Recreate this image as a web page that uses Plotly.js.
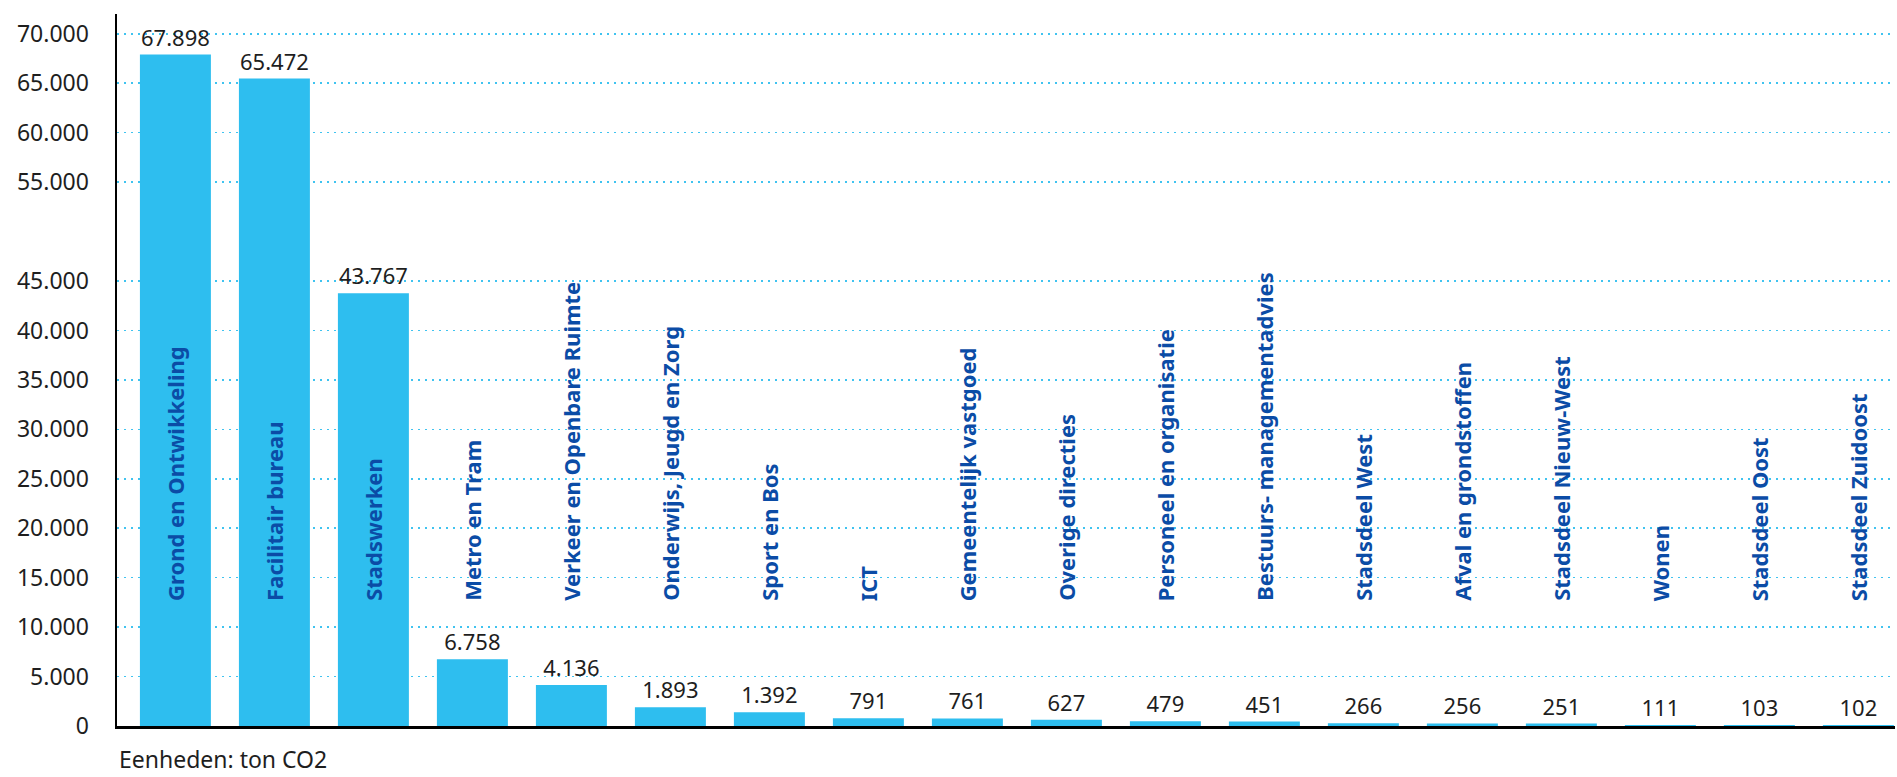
<!DOCTYPE html>
<html>
<head>
<meta charset="utf-8">
<script src="https://cdn.plot.ly/plotly-3.0.1.min.js"></script>
<style>
  html, body { margin: 0; padding: 0; background: #ffffff; }
  #chart { width: 1897px; height: 777px; }
</style>
</head>
<body>
<div id="chart"></div>
<script>
// ---- data ----
const categories = [
  "Grond en Ontwikkeling",
  "Facilitair bureau",
  "Stadswerken",
  "Metro en Tram",
  "Verkeer en Openbare Ruimte",
  "Onderwijs, Jeugd en Zorg",
  "Sport en Bos",
  "ICT",
  "Gemeentelijk vastgoed",
  "Overige directies",
  "Personeel en organisatie",
  "Bestuurs- managementadvies",
  "Stadsdeel West",
  "Afval en grondstoffen",
  "Stadsdeel Nieuw-West",
  "Wonen",
  "Stadsdeel Oost",
  "Stadsdeel Zuidoost"
];
const values = [67898, 65472, 43767, 6758, 4136, 1893, 1392, 791, 761, 627, 479, 451, 266, 256, 251, 111, 103, 102];

const yTickValues = [0, 5000, 10000, 15000, 20000, 25000, 30000, 35000, 40000, 45000, 55000, 60000, 65000, 70000];
const yTickLabels = ["0", "5.000", "10.000", "15.000", "20.000", "25.000", "30.000", "35.000", "40.000", "45.000", "55.000", "60.000", "65.000", "70.000"];

const footnote = "Eenheden: ton CO2";

// ---- chart ----
const barTrace = {
  type: "bar",
  x: categories,
  y: values,
  marker: { color: "#2ebeef" },
  texttemplate: "%{y:,d}",
  textposition: "outside",
  constraintext: "none",
  cliponaxis: false,
  textfont: { family: "Noto Sans, sans-serif", size: 22, color: "#1e1e1e" },
  hoverinfo: "x+y"
};

const categoryAnnotations = categories.map(c => ({
  x: c, xref: "x",
  y: 0.1728, yref: "paper",
  text: "<b>" + c + "</b>",
  textangle: -90,
  xanchor: "center", yanchor: "bottom",
  showarrow: false,
  font: { family: "Noto Sans, sans-serif", size: 22, color: "#0b4ca6" }
}));

const layout = {
  width: 1897, height: 777,
  margin: { l: 117, r: 2, t: 14, b: 51, pad: 0 },
  paper_bgcolor: "#ffffff",
  plot_bgcolor: "#ffffff",
  separators: ",.",
  showlegend: false,
  bargap: 0.283,
  xaxis: {
    type: "category",
    range: [-0.59, 17.37],
    showticklabels: false,
    ticks: "",
    showgrid: false,
    zeroline: false,
    showline: true,
    linecolor: "#000000",
    linewidth: 2.5,
    fixedrange: true
  },
  yaxis: {
    range: [0, 72000],
    tickmode: "array",
    tickvals: yTickValues,
    ticktext: yTickLabels,
    ticks: "",
    ticklabelstandoff: 21,
    tickfont: { family: "Noto Sans, sans-serif", size: 23, color: "#1e1e1e" },
    showgrid: true,
    gridcolor: "#3fc3f0",
    gridwidth: 1.5,
    griddash: "2px,5px",
    zeroline: false,
    showline: true,
    linecolor: "#000000",
    linewidth: 2.5,
    fixedrange: true
  },
  annotations: categoryAnnotations.concat([{
    x: 0, xref: "paper",
    y: -0.046, yref: "paper",
    xanchor: "left", yanchor: "middle",
    text: footnote,
    showarrow: false,
    font: { family: "Noto Sans, sans-serif", size: 23, color: "#1e1e1e" }
  }])
};

Plotly.newPlot("chart", [barTrace], layout, { displayModeBar: false, staticPlot: true });
</script>
</body>
</html>
